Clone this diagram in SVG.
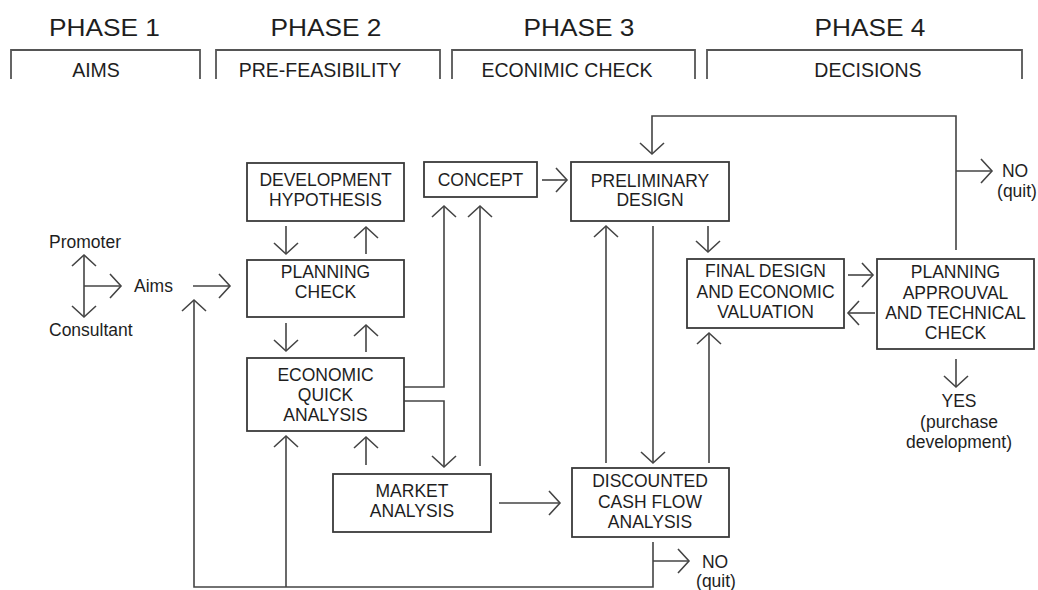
<svg xmlns="http://www.w3.org/2000/svg" width="1038" height="590" viewBox="0 0 1038 590">
<style>
text{font-family:"Liberation Sans",Arial,sans-serif;fill:#1e1e1e}
.h{font-size:24px;text-anchor:middle}
.s{font-size:19.5px;text-anchor:middle}
.t{font-size:17.5px;text-anchor:middle}
.l{font-size:17.5px}
.box{fill:#fff;stroke:#3a3a3a;stroke-width:1.8}
.br{fill:none;stroke:#555;stroke-width:1.8}
.c{fill:none;stroke:#444;stroke-width:1.6}
.a{marker-end:url(#ar)}
</style>
<defs>
<marker id="ar" markerUnits="userSpaceOnUse" markerWidth="30" markerHeight="30" viewBox="-15 -15 30 30" refX="0" refY="0" orient="auto" overflow="visible">
<path d="M-11,-12 L0,0 L-11,12" fill="none" stroke="#444" stroke-width="1.6"/>
</marker>
</defs>
<rect width="1038" height="590" fill="#fff"/>
<g id="phases">
<text class="h" x="104.5" y="36" textLength="111" lengthAdjust="spacingAndGlyphs">PHASE 1</text>
<text class="h" x="326" y="36" textLength="111" lengthAdjust="spacingAndGlyphs">PHASE 2</text>
<text class="h" x="579" y="36" textLength="111" lengthAdjust="spacingAndGlyphs">PHASE 3</text>
<text class="h" x="870" y="36" textLength="111" lengthAdjust="spacingAndGlyphs">PHASE 4</text>
<path class="br" d="M11,79 V50 H200 V79"/>
<path class="br" d="M216,79 V50 H440 V79"/>
<path class="br" d="M452,79 V50 H695 V79"/>
<path class="br" d="M707,79 V50 H1022 V79"/>
<text class="s" x="96" y="77">AIMS</text>
<text class="s" x="320" y="77">PRE-FEASIBILITY</text>
<text class="s" x="567" y="77">ECONIMIC CHECK</text>
<text class="s" x="868" y="77">DECISIONS</text>
</g>
<g id="connectors">
<path class="c a" d="M84,286 V255"/>
<path class="c a" d="M84,286 V317"/>
<path class="c a" d="M84,286 H121"/>
<path class="c a" d="M193,286 H230"/>
<path class="c a" d="M286,226 V254"/>
<path class="c a" d="M366,254 V227"/>
<path class="c a" d="M286,323 V351"/>
<path class="c a" d="M366,352 V325"/>
<path class="c a" d="M366,465 V437"/>
<path class="c a" d="M653,542 V587 H194 V300"/>
<path class="c a" d="M286,587 V436"/>
<path class="c a" d="M653,561 H689"/>
<path class="c a" d="M404,387 H444 V206"/>
<path class="c a" d="M404,401 H444 V467"/>
<path class="c a" d="M480,466 V206"/>
<path class="c a" d="M499,503 H560"/>
<path class="c a" d="M542,180 H567"/>
<path class="c a" d="M606,463 V226"/>
<path class="c a" d="M653,226 V463"/>
<path class="c a" d="M708,226 V252"/>
<path class="c a" d="M709,463 V333"/>
<path class="c a" d="M848,275 H873"/>
<path class="c a" d="M875,313 H848"/>
<path class="c a" d="M956,250 V116 H652 V154"/>
<path class="c a" d="M956,171 H992"/>
<path class="c a" d="M956,359 V387"/>
</g>
<g id="promoter"><text class="l" x="49" y="248">Promoter</text></g>
<g id="consultant"><text class="l" x="49" y="336">Consultant</text></g>
<g id="aims"><text class="l" x="134" y="292">Aims</text></g>
<g id="dev-hypothesis">
<rect class="box" x="247" y="163" width="157" height="58"/>
<text class="t" x="325.5" y="186">DEVELOPMENT</text>
<text class="t" x="325.5" y="206">HYPOTHESIS</text>
</g>
<g id="planning-check">
<rect class="box" x="247" y="260" width="157" height="57"/>
<text class="t" x="325.5" y="278">PLANNING</text>
<text class="t" x="325.5" y="298">CHECK</text>
</g>
<g id="economic-quick">
<rect class="box" x="247" y="358" width="157" height="73"/>
<text class="t" x="325.5" y="381">ECONOMIC</text>
<text class="t" x="325.5" y="401">QUICK</text>
<text class="t" x="325.5" y="421">ANALYSIS</text>
</g>
<g id="market-analysis">
<rect class="box" x="333" y="474" width="158" height="58"/>
<text class="t" x="412" y="497">MARKET</text>
<text class="t" x="412" y="517">ANALYSIS</text>
</g>
<g id="concept">
<rect class="box" x="424" y="162" width="113" height="35"/>
<text class="t" x="480.5" y="186">CONCEPT</text>
</g>
<g id="preliminary-design">
<rect class="box" x="571" y="162" width="158" height="59"/>
<text class="t" x="650" y="187">PRELIMINARY</text>
<text class="t" x="650" y="206">DESIGN</text>
</g>
<g id="dcf">
<rect class="box" x="572" y="468" width="157" height="69"/>
<text class="t" x="650" y="487">DISCOUNTED</text>
<text class="t" x="650" y="508">CASH FLOW</text>
<text class="t" x="650" y="528">ANALYSIS</text>
</g>
<g id="final-design">
<rect class="box" x="687" y="259" width="157" height="69"/>
<text class="t" x="765.5" y="277">FINAL DESIGN</text>
<text class="t" x="765.5" y="298">AND ECONOMIC</text>
<text class="t" x="765.5" y="318">VALUATION</text>
</g>
<g id="planning-approval">
<rect class="box" x="877" y="259" width="157" height="90"/>
<text class="t" x="955.5" y="278">PLANNING</text>
<text class="t" x="955.5" y="299">APPROUVAL</text>
<text class="t" x="955.5" y="319">AND TECHNICAL</text>
<text class="t" x="955.5" y="339">CHECK</text>
</g>
<g id="no-top">
<text class="t" x="1015" y="177">NO</text>
<text class="t" x="1017" y="197">(quit)</text>
</g>
<g id="yes">
<text class="t" x="959" y="407">YES</text>
<text class="t" x="959" y="428">(purchase</text>
<text class="t" x="959" y="448">development)</text>
</g>
<g id="no-bottom">
<text class="t" x="715" y="568">NO</text>
<text class="t" x="716" y="587">(quit)</text>
</g>
</svg>
